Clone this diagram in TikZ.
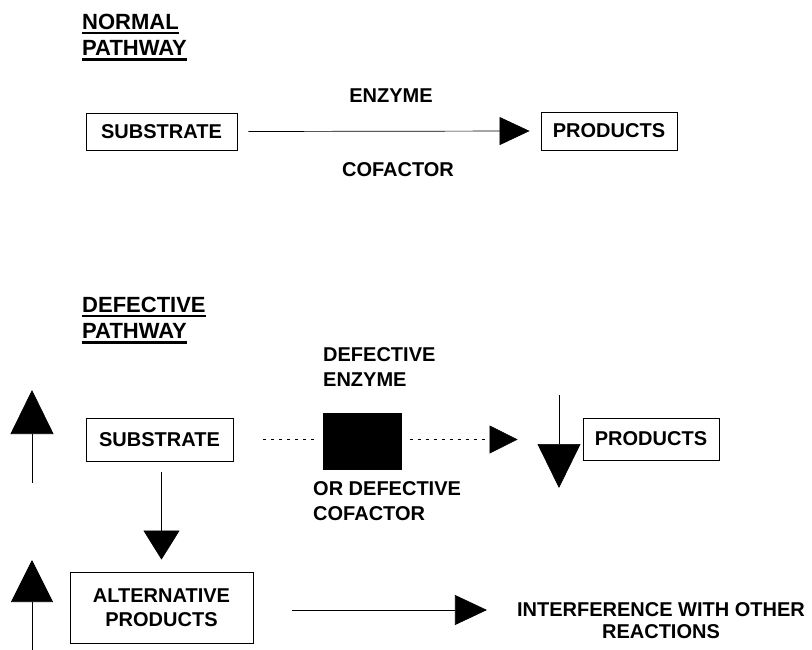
\documentclass[tikz,border=0pt]{standalone}
\usepackage{fontspec}
\setmainfont{Liberation Sans}
\usetikzlibrary{arrows.meta}
\newcommand\headline[1]{\setbox0\hbox{#1}\rlap{\rule[-5.3pt]{\wd0}{2.6pt}}\box0}

\begin{document}
\begin{tikzpicture}[x=1pt,y=-1pt,
    box/.style={draw,line width=0.8pt,inner sep=0pt,font=\bfseries\fontsize{20}{24}\selectfont},
    txt/.style={inner sep=0pt,font=\bfseries\fontsize{20}{25}\selectfont},
    heading/.style={inner sep=0pt,align=left,anchor=north west,font=\bfseries\fontsize{22}{26.5}\selectfont},
    flow/.style={line width=0.7pt,-{Triangle[length=30pt,width=28pt]}},
    big/.style={line width=0.7pt,-{Triangle[length=44pt,width=43pt]}},
    broken/.style={line width=0.6pt,dash pattern=on 3pt off 5pt}]
    \useasboundingbox (0,0) rectangle (812,650);

    \node[heading] (normhead) at (82,13.5) {\headline{NORMAL}\\\headline{PATHWAY}};
    \node[box,minimum width=151pt,minimum height=37pt] (sub) at (161.5,131.5) {SUBSTRATE};
    \node[box,minimum width=136pt,minimum height=38pt] (prod) at (609,131) {PRODUCTS};
    \node[txt] (enz) at (391,96) {ENZYME};
    \node[txt] (cof) at (398,170) {COFACTOR};
    \draw[flow] ([xshift=11pt]sub.east) -- ([xshift=-11pt]prod.west);

    \node[heading] (defhead) at (82,296.5) {\headline{DEFECTIVE}\\\headline{PATHWAY}};
    \node[box,minimum width=147pt,minimum height=43pt] (sub2) at (159.5,439.5) {SUBSTRATE};
    \node[fill,inner sep=0pt,minimum width=79pt,minimum height=57pt] (blk) at (362.5,441.5) {};
    \node[box,minimum width=136pt,minimum height=42pt] (prod2) at (651,439) {PRODUCTS};
    \node[txt,align=left,anchor=north west] (defenz) at (323,347.8) {DEFECTIVE\\ENZYME};
    \node[txt,align=left,anchor=north west] (defcof) at (313,481.8) {OR DEFECTIVE\\COFACTOR};
    \node[box,align=center,minimum width=183pt,minimum height=71pt] (alt) at (161.5,607.5) {ALTERNATIVE\\PRODUCTS};
    \node[txt,align=center,anchor=north,font=\bfseries\fontsize{20}{22}\selectfont] (intf) at (661,602.8) {INTERFERENCE WITH OTHER\\REACTIONS};

    \draw[broken] ([xshift=30pt]sub2.east) -- ([xshift=-5pt]blk.west |- sub2.east);
    \draw[broken,-{Triangle[length=28pt,width=28pt]}] ([xshift=8pt]blk.east |- sub2.east) -- ([xshift=-65pt]prod2.west |- sub2.east);
    \draw[line width=0.7pt,-{Triangle[length=29pt,width=36pt]}] ([yshift=-11pt]sub2.south -| alt.north) -- ([yshift=12pt]alt.north);
    \coordinate (altout) at ([xshift=39pt,yshift=-2.5pt]alt.east);
    \draw[line width=0.7pt,-{Triangle[length=32pt,width=30pt]}] (altout) -- ([xshift=-30pt]intf.west |- altout);

    \coordinate (drop) at (559,395);
    \coordinate (droptip) at (559,488);
    \draw[big] (drop) -- (droptip);
    \coordinate (riseA) at (32,483);
    \coordinate (riseAtip) at (32,390);
    \draw[big] (riseA) -- (riseAtip);
    \coordinate (riseB) at (32,650);
    \coordinate (riseBtip) at (32,560);
    \draw[line width=0.7pt,-{Triangle[length=42pt,width=42pt]}] (riseB) -- (riseBtip);
\end{tikzpicture}
\end{document}
